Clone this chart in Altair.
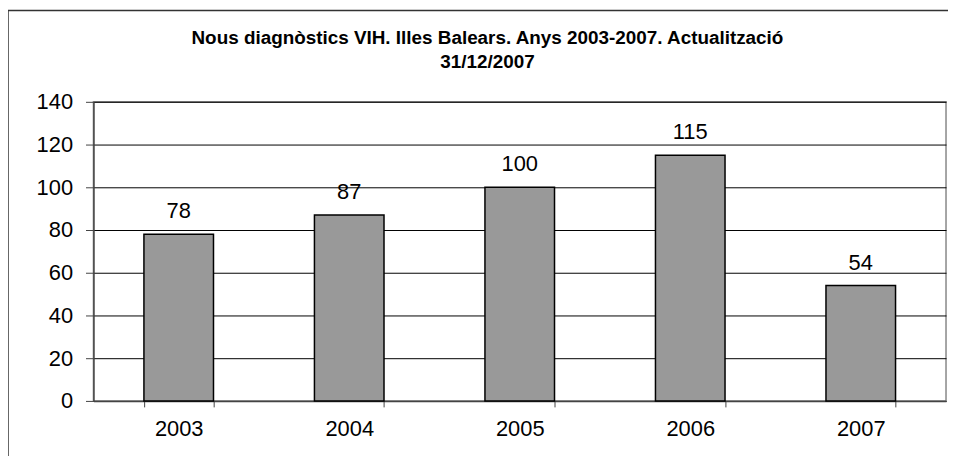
import altair as alt
import pandas as pd

years = ["2003", "2004", "2005", "2006", "2007"]
cases = [78, 87, 100, 115, 54]
y_ticks = [0, 20, 40, 60, 80, 100, 120, 140]
title_lines = ["Nous diagnòstics VIH. Illes Balears. Anys 2003-2007. Actualització", "31/12/2007"]

df = pd.DataFrame({"year": years, "cases": cases})
one = pd.DataFrame({"k": [0]})
FONT = "Liberation Sans"
FS = 22

x_enc = alt.X("year:N", sort=years, title=None,
              scale=alt.Scale(paddingInner=0.592, paddingOuter=0.296),
              axis=alt.Axis(labelAngle=0, tickBand="extent", tickSize=6, tickColor="#444",
                            domainColor="#444", domainWidth=1.5, labelFontSize=FS,
                            labelPadding=12, labelColor="black", labelFont=FONT, grid=False))
y_enc = alt.Y("cases:Q", title=None,
              scale=alt.Scale(domain=[0, 140], nice=False),
              axis=alt.Axis(values=y_ticks, tickSize=8, tickColor="#444", domainColor="#444",
                            domainWidth=1.5, labelFontSize=FS, labelPadding=13,
                            labelColor="black", labelFont=FONT, grid=True,
                            gridColor="black", gridWidth=1, gridOpacity=1))

frame = alt.Chart(one).mark_rect(fill=None, stroke="#333", strokeWidth=1.5, clip=False).encode(
    x=alt.value(-86), x2=alt.value(900), y=alt.value(-92), y2=alt.value(400)
)

title = alt.Chart(one).mark_text(text=title_lines, fontSize=19, font=FONT, fontWeight="bold",
                                 lineHeight=24, align="center", baseline="alphabetic",
                                 color="black").encode(
    x=alt.value(396.5), y=alt.value(-58.5)
)

bars = alt.Chart(df).mark_bar(color="#999999", stroke="black", strokeWidth=1.5).encode(
    x=x_enc, y=y_enc
)

labels = alt.Chart(df).mark_text(dy=-16, baseline="alphabetic", fontSize=FS, font=FONT,
                                 color="black").encode(
    x=alt.X("year:N", sort=years), y=alt.Y("cases:Q"), text="cases:Q"
)

chart = alt.layer(bars, labels, frame, title).properties(
    width=858, height=301,
    autosize=alt.AutoSizeParams(type="none"),
    padding={"left": 86, "top": 93, "right": 2, "bottom": 54},
    background="white",
).configure_view(stroke="#888", strokeWidth=1.5)

chart.save("out.html", embed_options={"renderer": "svg", "actions": False})
